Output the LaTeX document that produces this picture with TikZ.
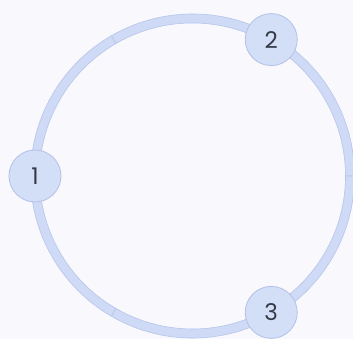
\documentclass[tikz,border=0pt]{standalone}
\usepackage{fontspec}
\setmainfont{Poppins}
\usetikzlibrary{calc}
\definecolor{bg}{HTML}{F8F8FD}
\definecolor{ringfill}{HTML}{CFDAF6}
\definecolor{ringline}{HTML}{B7C5EA}
\definecolor{nodefill}{HTML}{D3DEF7}
\definecolor{nodeline}{HTML}{B3C1E6}
\definecolor{txt}{HTML}{353A48}
\tikzset{
  stepnode/.style={circle, fill=nodefill, draw=nodeline, line width=0.8pt,
    minimum size=52pt, inner sep=0pt, text=txt, font=\fontsize{23}{23}\selectfont},
  ringseg/.style={fill=ringfill, draw=ringline, line width=0.6pt}
}
\begin{document}
\begin{tikzpicture}[x=1pt,y=1pt]
\fill[bg] (0,0) rectangle (353,339);
\useasboundingbox (0,0) rectangle (353,339);
\coordinate (c) at (192.5,163);
\def\ro{162}
\def\ri{153}
\foreach \a/\b in {120/240, 0/120, -120/0}{
  \path[ringseg] ($(c)+(\a:\ro)$) arc[start angle=\a, end angle=\b, radius=\ro]
    -- ($(c)+(\b:\ri)$) arc[start angle=\b, end angle=\a, radius=\ri] -- cycle;
}
\node[stepnode] (n1) at ($(c)+(180:157.5)$) {1};
\node[stepnode] (n2) at ($(c)+(60:157.5)$) {2};
\node[stepnode] (n3) at ($(c)+(-60:157.5)$) {3};
\end{tikzpicture}
\end{document}
